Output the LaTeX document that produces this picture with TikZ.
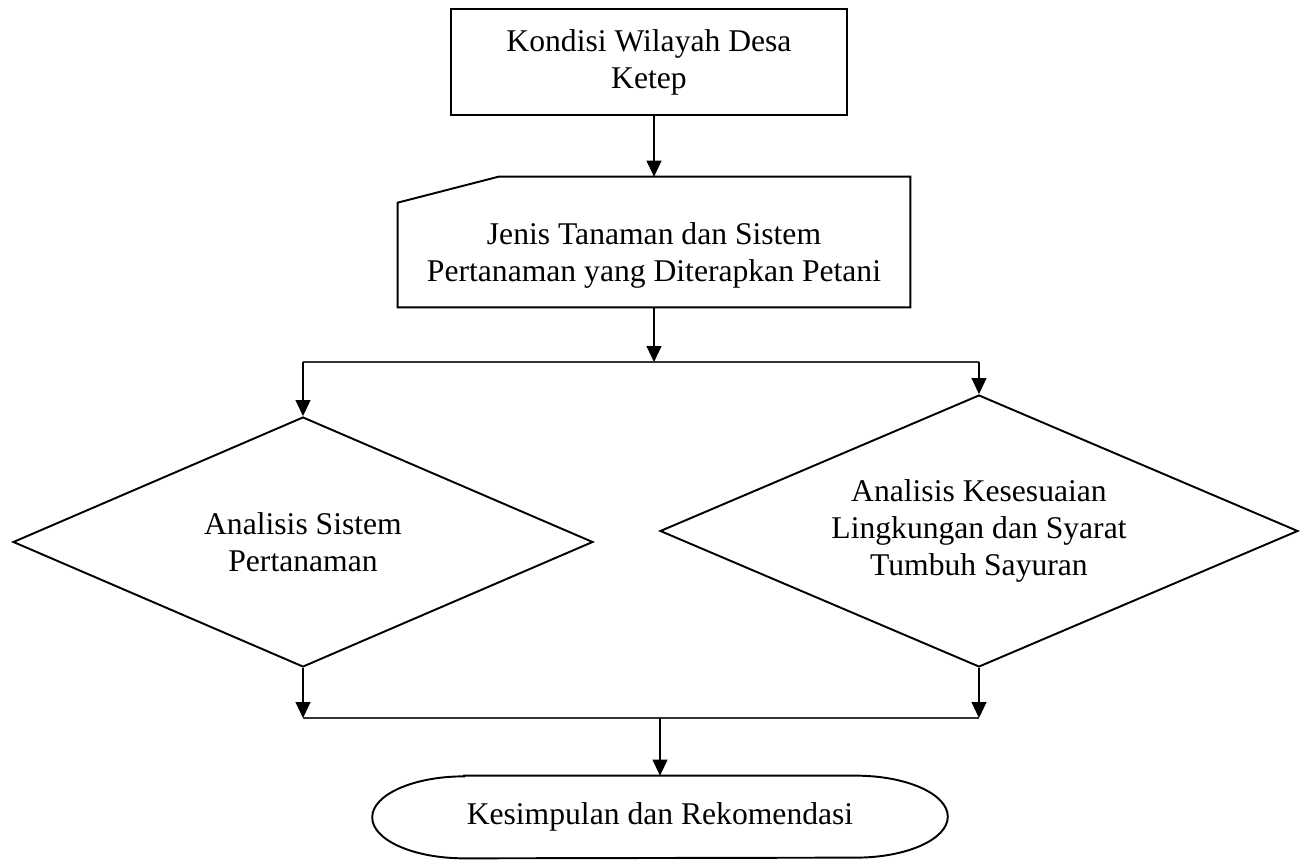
\documentclass[tikz,border=0pt]{standalone}
\usepackage{fontspec}
\setmainfont{Liberation Serif}
\usetikzlibrary{shapes.geometric,arrows.meta}

\begin{document}
\begin{tikzpicture}[x=0.02cm,y=-0.02cm,
		font=\fontsize{18}{21}\selectfont,
		kotak/.style={rectangle,draw,line width=1.1pt,align=center,inner sep=0pt},
		manual/.style={rectangle,align=center,inner sep=0pt},
		keputusan/.style={diamond,draw,line width=1.1pt,align=center,inner sep=0pt},
		terminal/.style={align=center,inner sep=0pt},
		panah/.style={-{Triangle[length=0.32cm,width=0.3cm]},line width=0.6pt},
		garis/.style={line width=0.6pt,black!80}
		]
		\useasboundingbox (0,0) rectangle (1306,861);
		
		\node[kotak,minimum width=7.92cm,minimum height=2.12cm](kondisi) at (649,62){Kondisi Wilayah Desa\\Ketep};
		
		\node[manual,minimum width=10.24cm,minimum height=2.08cm](jenis) at (654,255){Jenis Tanaman dan Sistem\\Pertanaman yang Diterapkan Petani};
		\draw[line width=1.1pt] (jenis.south west) -- (jenis.south east) -- ([yshift=0.52cm]jenis.north east)
		-- ([xshift=2.02cm,yshift=0.52cm]jenis.north west) -- (jenis.north west) -- cycle;
		
		\node[keputusan,shape aspect=2.32,minimum width=11.6cm,minimum height=5cm](kiri) at (303,542){Analisis Sistem\\Pertanaman};
		\node[keputusan,shape aspect=2.35,minimum width=12.76cm,minimum height=5.44cm](kanan) at (979,531){Analisis Kesesuaian\\Lingkungan dan Syarat\\Tumbuh Sayuran};
		
		\node[terminal,minimum width=11.5cm,minimum height=1.64cm](kesimpulan) at (660,817){Kesimpulan dan Rekomendasi};
		\draw[line width=1.1pt] ([xshift=1.84cm]kesimpulan.north west) -- ([xshift=-1.84cm]kesimpulan.north east)
		arc[start angle=90,end angle=-90,x radius=1.84cm,y radius=0.82cm]
		-- ([xshift=1.84cm]kesimpulan.south west)
		arc[start angle=270,end angle=90,x radius=1.84cm,y radius=0.82cm] -- cycle;
		
		\coordinate (pisah) at (654,362);
		\coordinate (pisah-kiri) at (kiri.north |- pisah);
		\coordinate (pisah-kanan) at (kanan.north |- pisah);
		\coordinate (gabung) at (660,718);
		\coordinate (gabung-kiri) at (kiri.south |- gabung);
		\coordinate (gabung-kanan) at (kanan.south |- gabung);
		
		\draw[panah] (kondisi.south -| jenis.north) -- ([yshift=0.52cm]jenis.north);
		\draw[panah] (jenis.south) -- (pisah);
		\draw[garis] (pisah-kiri) -- (pisah-kanan);
		\draw[panah] (pisah-kiri) -- (kiri.north);
		\draw[panah] (pisah-kanan) -- (kanan.north);
		\draw[panah] (kiri.south) -- (gabung-kiri);
		\draw[panah] (kanan.south) -- (gabung-kanan);
		\draw[garis] (gabung-kiri) -- (gabung-kanan);
		\draw[panah] (gabung) -- (kesimpulan.north);
	\end{tikzpicture}
\end{document}
